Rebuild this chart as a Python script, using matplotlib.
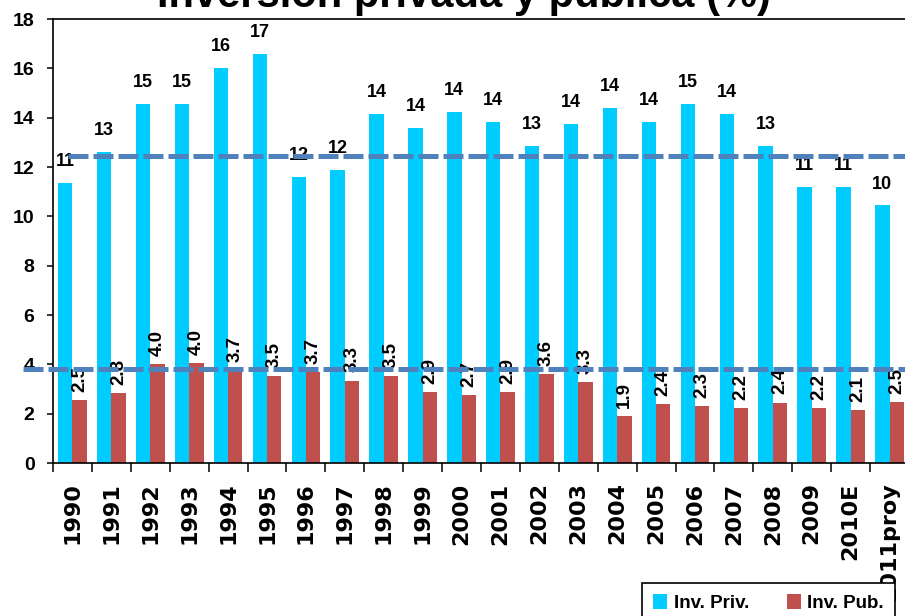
import numpy as np
import matplotlib.pyplot as plt

plt.rcParams['font.family'] = ['Liberation Sans', 'DejaVu Sans']

years = ['1990', '1991', '1992', '1993', '1994', '1995', '1996', '1997', '1998', '1999',
         '2000', '2001', '2002', '2003', '2004', '2005', '2006', '2007', '2008', '2009',
         '2010E', '2011proy']
inv_priv = [11.36, 12.62, 14.55, 14.55, 16.01, 16.59, 11.59, 11.88, 14.15, 13.58, 14.23,
            13.82, 12.85, 13.74, 14.39, 13.82, 14.55, 14.15, 12.85, 11.19, 11.19, 10.45]
inv_pub = [2.54, 2.84, 4.01, 4.04, 3.74, 3.53, 3.69, 3.34, 3.53, 2.88, 2.74,
           2.88, 3.61, 3.28, 1.91, 2.39, 2.31, 2.23, 2.44, 2.23, 2.14, 2.47]
ref_priv = 12.45
ref_pub = 3.8

c_priv = '#00CCFF'
c_pub = '#C0504D'
c_ref = '#4F81BD'

fig = plt.figure(figsize=(9.05, 6.16), dpi=100)
ax = fig.add_axes([53/905, 1 - 463/616, 856/905, 444/616])

x = np.arange(len(years))
w = 0.37
ax.bar(x - w/2, inv_priv, width=w, color=c_priv, label='Inv. Priv.')
ax.bar(x + w/2, inv_pub, width=w, color=c_pub, label='Inv. Pub.')

for xi, v in zip(x, inv_priv):
    ax.annotate(f'{v:.0f}', (xi - w/2, v), xytext=(0, 12), textcoords='offset points',
                ha='center', va='baseline', fontsize=13, fontweight='bold')
for xi, v in zip(x, inv_pub):
    ax.annotate(f'{v:.1f}', (xi + w/2, v), xytext=(0, 6), textcoords='offset points',
                ha='center', va='bottom', rotation=90, fontsize=13.5, fontweight='bold')

# reference lines (drawn shapes in the original)
ax.plot([-0.11, 21.5], [ref_priv, ref_priv], color=c_ref, lw=3.6, dashes=(4, 1),
        dash_capstyle='butt', clip_on=False, zorder=6)
ax.plot([-1.27, 21.5], [ref_pub, ref_pub], color=c_ref, lw=3.6, dashes=(4, 1),
        dash_capstyle='butt', clip_on=False, zorder=6)

ax.set_xlim(-0.5, len(years) - 0.5)
ax.set_ylim(0, 18)
ax.set_yticks(np.arange(0, 19, 2))
ax.set_xticks(x)
ax.set_xticklabels(years, rotation=90, fontsize=16, fontweight='bold',
                   family='DejaVu Sans')
ax.set_xticks(np.arange(-0.5, len(years)), minor=True)
ax.tick_params(axis='x', which='major', length=0, pad=14)
ax.tick_params(axis='x', which='minor', length=6.5, width=1.1, direction='out')
ax.tick_params(axis='y', length=4.3, width=1.1, pad=9)
for lab in ax.get_yticklabels():
    lab.set_fontsize(14)
    lab.set_fontweight('bold')

for s in ['left', 'bottom', 'top', 'right']:
    ax.spines[s].set_linewidth(1.2)

fig.text(464/905, 1 - 7/616, 'Inversión privada y pública (%)', ha='center',
         va='baseline', fontsize=30, fontweight='bold')

leg = fig.legend(loc='upper left', bbox_to_anchor=(642/905, 1 - 583/616), ncol=2,
                 fancybox=False, edgecolor='black', framealpha=1,
                 prop={'size': 13.5, 'weight': 'bold'}, handlelength=0.75,
                 handleheight=0.85, handletextpad=0.35, columnspacing=2.0,
                 borderpad=0.6, borderaxespad=0)
leg.get_frame().set_linewidth(1.2)

fig.savefig('out.png', dpi=100)
